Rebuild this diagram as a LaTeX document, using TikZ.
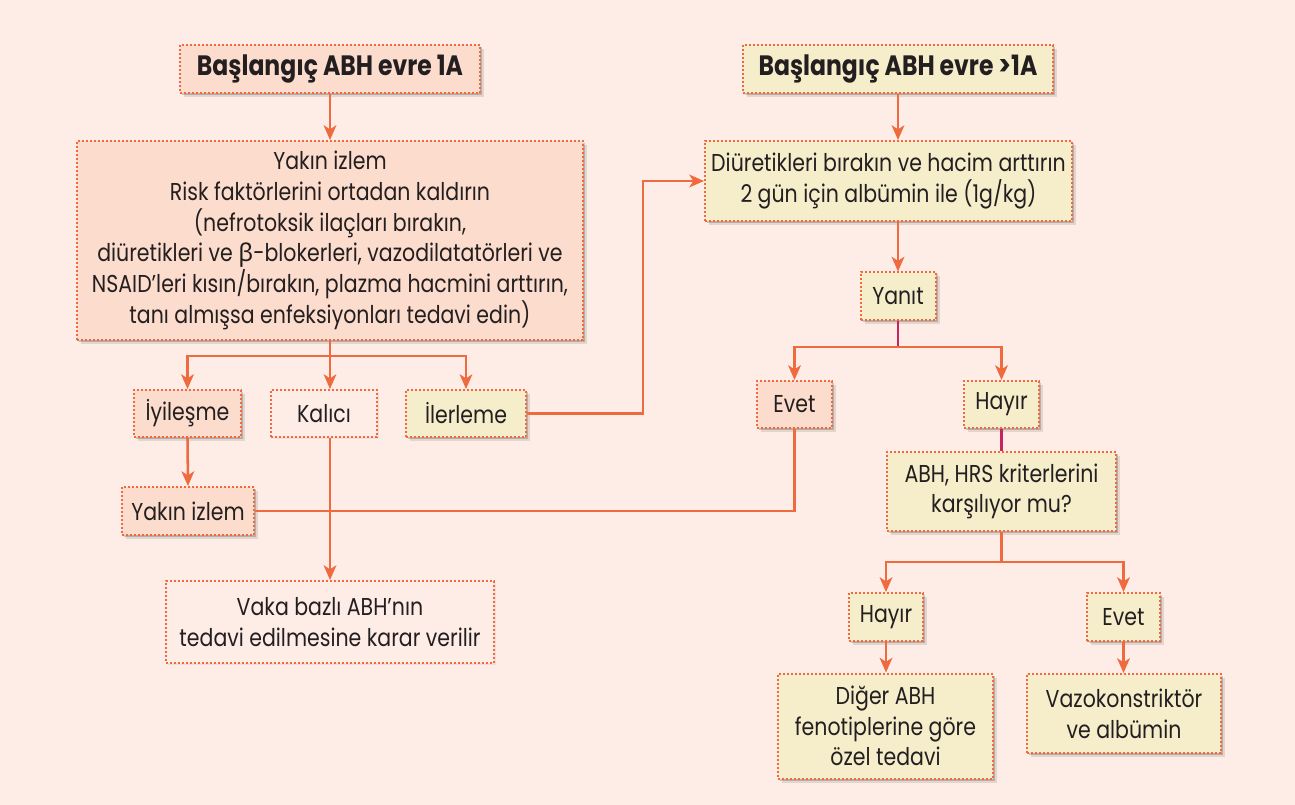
\documentclass[tikz,border=0pt]{standalone}
\usepackage{fontspec}
\setmainfont{Poppins}[FakeStretch=0.84]
\newfontfamily\grk{Noto Sans}
\usetikzlibrary{arrows.meta,shadows}
\definecolor{bg}{HTML}{FDEDE6}
\definecolor{lc}{HTML}{EF6A3F}
\definecolor{mg}{HTML}{C9245E}
\definecolor{sal}{HTML}{FCDCCC}
\definecolor{crm}{HTML}{F6EDCB}
\definecolor{txt}{HTML}{231F20}
\tikzset{
  box/.style={draw=lc, line width=1.5pt, dash pattern=on 1.5pt off 1.5pt,
    align=center, inner sep=0pt, text=txt,
    font=\fontsize{18.3}{23}\selectfont,
    general shadow={fill=black, opacity=0.10, shadow xshift=3pt, shadow yshift=-3pt, shadow scale=1.0},
    drop shadow={fill=black, opacity=0.18, shadow xshift=1.5pt, shadow yshift=-1.5pt}},
  faint/.style={draw=lc, line width=1.5pt, dash pattern=on 1.5pt off 1.5pt,
    align=center, inner sep=0pt, text=txt, fill=bg,
    font=\fontsize{18.3}{23}\selectfont,
    drop shadow={fill=black, opacity=0.06, shadow xshift=1.5pt, shadow yshift=-1.5pt}},
  sal/.style={box, fill=sal},
  crm/.style={box, fill=crm},
  hdr/.style={font=\fontsize{21}{23}\selectfont\bfseries},
  sz/.style 2 args={minimum width=#1*0.75pt, minimum height=#2*0.75pt},
  ln/.style={draw=lc, line width=1.9pt},
  mgl/.style={draw=mg, line width=1.9pt},
  arr/.style={ln, -{Stealth[length=11pt, width=9.5pt, inset=3pt]}},
}
\begin{document}
\begin{tikzpicture}[x=0.75pt, y=-0.75pt]
\fill[bg] (0,0) rectangle (1295,805);
\useasboundingbox (0,0) rectangle (1295,805);

% left column
\node[sal, sz={300}{48}, hdr] (b1) at (330,69) {Başlangıç ABH evre 1A};
\node[sal, sz={506}{199}] (b3) at (330,240.5) {Yakın izlem\\Risk faktörlerini ortadan kaldırın\\(nefrotoksik ilaçları bırakın,\\diüretikleri ve {\grk β}-blokerleri, vazodilatatörleri ve\\NSAID’leri kısın/bırakın, plazma hacmini arttırın,\\tanı almışsa enfeksiyonları tedavi edin)};
\node[sal, sz={107}{47}] (iy) at (187.5,413.5) {İyileşme};
\node[faint, sz={106}{47}] (ka) at (324,413.5) {Kalıcı};
\node[crm, sz={120}{47}] (il) at (466,413.5) {İlerleme};
\node[sal, sz={132}{48}] (yi) at (188,511) {Yakın izlem};
\node[faint, sz={328}{82}] (vb) at (330,622) {Vaka bazlı ABH’nın\\tedavi edilmesine karar verilir};

% right column
\node[crm, sz={310}{48}, hdr] (b2) at (898,69) {Başlangıç ABH evre >1A};
\node[crm, sz={367}{80}] (di) at (888.5,181) {Diüretikleri bırakın ve hacim arttırın\\2 gün için albümin ile (1g/kg)};
\node[crm, sz={75}{48}] (ya) at (898,296.5) {Yanıt};
\node[sal, sz={75}{47}] (ev) at (794.5,404.5) {Evet};
\node[crm, sz={75}{47}] (ha) at (1001.5,404.5) {Hayır};
\node[crm, sz={229}{79}] (ah) at (1001.5,491.5) {ABH, HRS kriterlerini\\karşılıyor mu?};
\node[crm, sz={74}{48}] (ha2) at (886,617) {Hayır};
\node[crm, sz={73}{48}] (ev2) at (1123.5,617) {Evet};
\node[crm, sz={215}{105}] (dg) at (885.5,726) {Diğer ABH\\fenotiplerine göre\\özel tedavi};
\node[crm, sz={194}{79}] (vz) at (1124,713.5) {Vazokonstriktör\\ve albümin};

\coordinate (j1) at (330,356);
\coordinate (c1) at (643,181);
\coordinate (j2) at (898,347);
\coordinate (j3) at (1001.5,562);

% connectors left
\draw[arr] (b1.south) -- (b3.north);
\draw[ln] (b3.south) -- (j1);
\draw[arr] (j1) -| (iy.north);
\draw[arr] (j1) -| (il.north);
\draw[arr] (j1) -- (j1 |- ka.north);
\draw[arr] (iy.south) -- (yi.north);
\draw[arr] (ka.south -| j1) -- (vb.north -| j1);
\draw[arr] (il.east) -| (c1) -- (di.west);

% connectors right
\draw[arr] (b2.south) -- (b2.south |- di.north);
\draw[arr] (ya.north |- di.south) -- (ya.north);
\draw[mgl] (ya.south) -- (j2);
\draw[arr] (j2) -| (ev.north);
\draw[arr] (j2) -| (ha.north);
\draw[mgl] (ha.south) -- (ha.south |- ah.north);
\draw[ln] (ev.south) |- (yi.east);
\draw[ln] (ah.south) -- (j3);
\draw[arr] (j3) -| (ha2.north);
\draw[arr] (j3) -| (ev2.north);
\draw[arr] (ha2.south) -- (ha2.south |- dg.north);
\draw[arr] (ev2.south) -- (ev2.south |- vz.north);
\end{tikzpicture}
\end{document}
